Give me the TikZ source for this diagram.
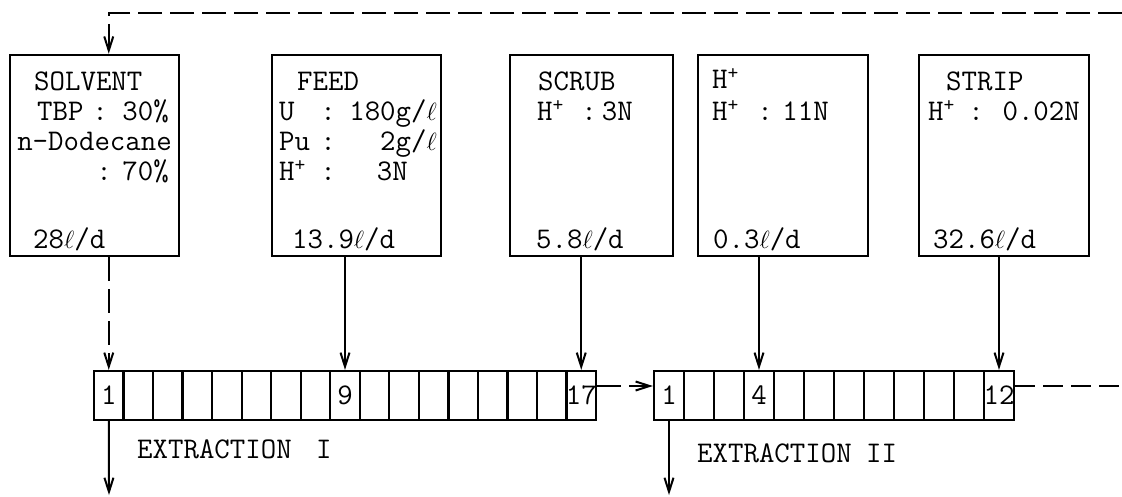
\documentclass[tikz,border=0pt]{standalone}
\usepackage{fontspec}
\usetikzlibrary{arrows.meta}
\newcommand{\Hplus}{H\raisebox{0.3em}{\fontsize{21}{21}\selectfont +}}
\newcommand{\ellu}{$\ell$}
\tikzset{
  tx/.style={font=\fontsize{30}{34}\selectfont\ttfamily, inner sep=0pt, anchor=base west},
  txe/.style={tx, anchor=base east},
  txc/.style={tx, anchor=base},
  num/.style={tx, anchor=center},
  box/.style={draw, line width=2.5pt, inner sep=0pt},
  cellbox/.style={draw, line width=2.3pt, minimum width=29.53pt, minimum height=49pt, inner sep=0pt},
  cellb/.style={cellbox, minimum width=30pt},
  flow/.style={line width=2pt, -{Straight Barb[length=14pt,width=9pt,line width=2pt]}},
  recyc/.style={flow, dash pattern=on 24pt off 8pt},
  recline/.style={line width=2pt, dash pattern=on 20pt off 8pt},
}
\begin{document}
\begin{tikzpicture}[x=1pt,y=-1pt]
\useasboundingbox (0,0) rectangle (1122,496);
% feed boxes
\node[box, minimum width=169pt, minimum height=201pt] (solvent) at (94.5,155.5) {};
\node[box, minimum width=169pt, minimum height=201pt] (feed) at (356.5,155.5) {};
\node[box, minimum width=163pt, minimum height=201pt] (scrub) at (591.5,155.5) {};
\node[box, minimum width=170pt, minimum height=201pt] (hbox) at (783,155.5) {};
\node[box, minimum width=170pt, minimum height=201pt] (strip) at (1004,155.5) {};
% SOLVENT texts
\node[tx] (s1) at (34,90) {SOLVENT};
\node[tx] (s2a) at (37,120) {TBP};
\node[txc] (s2b) at (100,120) {:};
\node[txe] (s2c) at (169,120) {30\%};
\node[txc] (s3) at (94.5,150) {n-Dodecane};
\node[txc] (s4b) at (104,180) {:};
\node[txe] (s4c) at (169,180) {70\%};
\node[tx] (s5) at (33,248) {28\ellu/d};
% FEED texts
\node[tx] (f1) at (297,90) {FEED};
\node[tx] (f2a) at (279,120) {U};
\node[txc] (f2b) at (328,120) {:};
\node[txe] (f2c) at (437,120) {180g/\ellu};
\node[tx] (f3a) at (279,150) {Pu};
\node[txc] (f3b) at (328,150) {:};
\node[txe] (f3c) at (437,150) {2g/\ellu};
\node[tx] (f4a) at (279,180) {\Hplus};
\node[txc] (f4b) at (328,180) {:};
\node[txe] (f4c) at (408,180) {3N};
\node[tx] (f5) at (292,248) {13.9\ellu/d};
% SCRUB texts
\node[tx] (c1) at (538,90) {SCRUB};
\node[tx] (c2a) at (537,120) {\Hplus};
\node[txc] (c2b) at (589,120) {:};
\node[txe] (c2c) at (633,120) {3N};
\node[tx] (c5) at (536,248) {5.8\ellu/d};
% H+ texts
\node[tx] (h1) at (712,88) {\Hplus};
\node[tx] (h2a) at (712,120) {\Hplus};
\node[txc] (h2b) at (765,120) {:};
\node[txe] (h2c) at (829,120) {11N};
\node[tx] (h5) at (713,248) {0.3\ellu/d};
% STRIP texts
\node[tx] (p1) at (946,90) {STRIP};
\node[tx] (p2a) at (928,120) {\Hplus};
\node[txc] (p2b) at (976,120) {:};
\node[txe] (p2c) at (1080,120) {0.02N};
\node[tx] (p5) at (933,248) {32.6\ellu/d};
% extraction cells
\foreach \i in {1,...,17} \node[cellbox] (a\i) at ({94+(\i-0.5)*29.53},395.5) {};
\foreach \i in {1,...,12} \node[cellb] (b\i) at ({654+(\i-0.5)*30},395.5) {};
\node[num] (na1) at (a1) {1};
\node[num] (na9) at (a9) {9};
\node[num] (na17) at (a17) {17};
\node[num] (nb1) at (b1) {1};
\node[num] (nb4) at (b4) {4};
\node[num] (nb12) at (b12) {12};
% labels
\node[tx] (e1) at (137,458) {EXTRACTION};
\node[tx] (e1n) at (316,458) {I};
\node[tx] (e2) at (697,462) {EXTRACTION};
\node[tx] (e2n) at (866,462) {II};
% connectors
\coordinate (rin) at (1122,13);
\draw[recyc] (rin) -| (a1.north |- solvent.north);
\draw[recyc] (a1.north |- solvent.south) -- (a1.north);
\draw[flow] (a9.north |- feed.south) -- (a9.north);
\draw[flow] (a17.north |- scrub.south) -- (a17.north);
\draw[flow] (b4.north |- hbox.south) -- (b4.north);
\draw[flow] (b12.north |- strip.south) -- (b12.north);
\draw[recyc] ([yshift=9.5pt]a17.east) -- ([yshift=9.5pt]b1.west);
\coordinate (rout) at (1122,386);
\draw[recline] ([yshift=9.5pt]b12.east) -- (rout);
\coordinate (o1) at (109,495);
\coordinate (o2) at (669,495);
\draw[flow] (a1.south) -- (o1);
\draw[flow] (b1.south) -- (o2);
\end{tikzpicture}
\end{document}
